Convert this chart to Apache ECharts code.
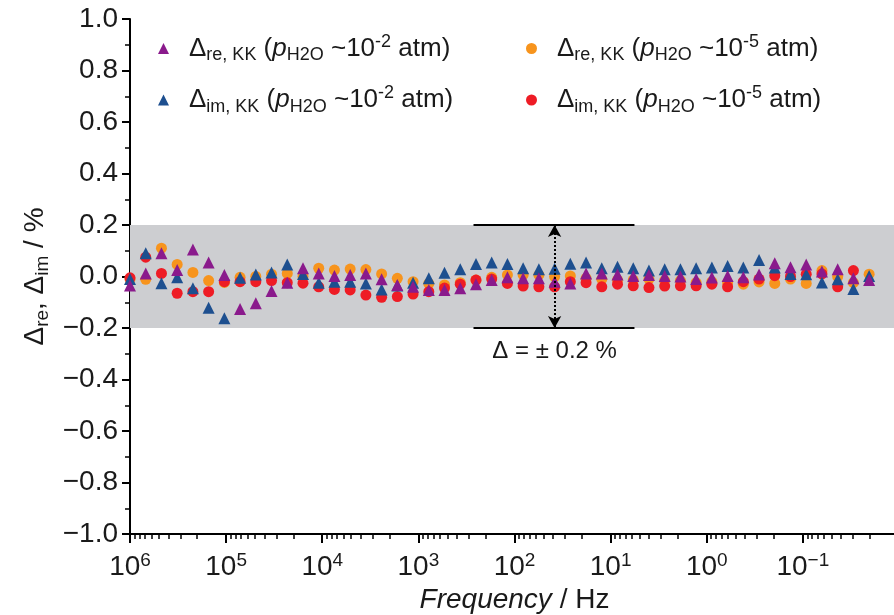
<!DOCTYPE html>
<html><head><meta charset="utf-8">
<script src="https://cdn.jsdelivr.net/npm/echarts@6/dist/echarts.min.js"></script>
<style>html,body{margin:0;padding:0;background:#fff}#c{width:894px;height:615px}</style>
</head><body><div id="c"></div>
<script>
// Frequencies (Hz) of the measured points
const frequency = [1000000, 686000, 470800, 323100, 221600, 152050, 104300, 71590, 49120, 33700,
  23120, 15860, 10880, 7468, 5124, 3516, 2412, 1655, 1136, 779.1,
  534.6, 366.7, 251.6, 172.6, 118.5, 81.28, 55.77, 38.26, 26.25, 18.01,
  12.36, 8.48, 5.818, 3.992, 2.739, 1.879, 1.289, 0.8846, 0.6069, 0.4164,
  0.2858, 0.1961, 0.1345, 0.0923, 0.06333, 0.04345, 0.02981, 0.02045];
// Δre, KK (pH2O ~1e-2 atm) — purple triangles
const reWet = [-0.035, 0.012, 0.09, 0.025, 0.105, 0.054, 0.006, -0.126, -0.104, -0.056,
  -0.024, 0.032, 0.012, 0.002, 0.006, 0.012, -0.011, -0.033, -0.04, -0.052,
  -0.052, -0.046, -0.03, -0.014, -0.003, -0.007, -0.007, -0.02, -0.027, 0.012,
  0.012, 0.008, 0.002, 0.006, 0.002, 0.0, -0.01, -0.004, 0.002, -0.003,
  0.008, 0.051, 0.036, 0.047, 0.019, 0.028, -0.007, -0.014];
// Δim, KK (pH2O ~1e-2 atm) — blue triangles
const imWet = [-0.01, 0.09, -0.026, -0.003, -0.046, -0.121, -0.162, -0.005, 0.008, 0.016,
  0.047, 0.01, -0.024, -0.02, -0.02, -0.027, -0.05, -0.035, -0.024, -0.007,
  0.015, 0.028, 0.049, 0.054, 0.049, 0.032, 0.028, 0.03, 0.05, 0.054,
  0.032, 0.038, 0.032, 0.023, 0.028, 0.028, 0.032, 0.035, 0.041, 0.035,
  0.064, 0.035, 0.01, 0.009, -0.023, -0.011, -0.049, 0.002];
// Δre, KK (pH2O ~1e-5 atm) — orange circles
const reDry = [-0.01, -0.011, 0.11, 0.047, 0.016, -0.016, -0.023, -0.003, 0.0, 0.009,
  0.012, 0.0, 0.032, 0.025, 0.029, 0.027, 0.01, -0.007, -0.02, -0.027,
  -0.033, -0.024, -0.014, -0.003, 0.006, 0.006, 0.006, 0.0, 0.002, -0.007,
  -0.011, -0.014, -0.014, -0.01, -0.016, -0.016, -0.024, -0.02, -0.024, -0.03,
  -0.021, -0.027, -0.01, -0.027, 0.023, 0.0, -0.024, 0.009];
// Δim, KK (pH2O ~1e-5 atm) — red circles
const imDry = [-0.005, 0.075, 0.012, -0.065, -0.059, -0.059, -0.02, -0.02, -0.02, -0.016,
  -0.024, -0.026, -0.04, -0.05, -0.052, -0.072, -0.081, -0.078, -0.068, -0.059,
  -0.045, -0.03, -0.014, -0.01, -0.027, -0.037, -0.04, -0.04, -0.02, -0.024,
  -0.04, -0.03, -0.036, -0.043, -0.037, -0.036, -0.036, -0.03, -0.04, -0.02,
  -0.01, 0.003, 0.0, 0.009, 0.01, -0.04, 0.023, null];

const xMajorTicks = [1e6, 1e5, 1e4, 1e3, 1e2, 1e1, 1e0, 1e-1];
const xMinorTicks = [];
for (let e = -2; e < 6; e++) for (let m = 2; m <= 9; m++) xMinorTicks.push(+(m * Math.pow(10, e)).toPrecision(3));
const xRange = [0.01, 1e6];
const yRange = [-1, 1];
const band = [-0.2, 0.2];
const bracketFreq = [267, 5.65];   // extent of the ±0.2 bracket lines
const arrowFreq = 38.26;           // position of the double arrow
const bracketLabelY = -0.29;

const F = '"Liberation Sans", Arial, Helvetica, sans-serif';
const C = '#1a1a1a';
const rich = {
  m: {fontSize: 26, fontFamily: F, color: C},
  mi: {fontSize: 26, fontFamily: F, fontStyle: 'italic', color: C},
  sb: {fontSize: 18, fontFamily: F, color: C, padding: [14, 0, 0, 0]},
  sp: {fontSize: 18, fontFamily: F, color: C, padding: [0, 0, 13, 0]},
  gap: {width: 15}
};
const axRich = {
  m: {fontSize: 28, fontFamily: F, color: C},
  mi: {fontSize: 28, fontFamily: F, fontStyle: 'italic', color: C},
  sb: {fontSize: 19, fontFamily: F, color: C, padding: [15, 0, 0, 0]},
  sp: {fontSize: 19, fontFamily: F, color: C, padding: [0, 0, 14, 0]}
};

const names = {
  reWet: 'Δre, KK (pH2O ~10-2 atm)',
  imWet: 'Δim, KK (pH2O ~10-2 atm)',
  reDry: 'Δre, KK (pH2O ~10-5 atm)',
  imDry: 'Δim, KK (pH2O ~10-5 atm)'
};
const legendRich = {};
legendRich[names.reWet] = '{gap|}{m|Δ}{sb|re, KK}{m| (}{mi|p}{sb|H2O}{m| ~10}{sp|-2}{m| atm)}';
legendRich[names.imWet] = '{gap|}{m|Δ}{sb|im, KK}{m| (}{mi|p}{sb|H2O}{m| ~10}{sp|-2}{m| atm)}';
legendRich[names.reDry] = '{gap|}{m|Δ}{sb|re, KK}{m| (}{mi|p}{sb|H2O}{m| ~10}{sp|-5}{m| atm)}';
legendRich[names.imDry] = '{gap|}{m|Δ}{sb|im, KK}{m| (}{mi|p}{sb|H2O}{m| ~10}{sp|-5}{m| atm)}';

function pts(vals) { return frequency.map((f, i) => vals[i] == null ? null : [f, vals[i]]).filter(p => p); }

const colors = {reWet: '#8a1a8c', imWet: '#1d4f8f', reDry: '#f7941d', imDry: '#ee1c25'};

function sc(key, symbol, size, extra) {
  return Object.assign({
    type: 'scatter', name: names[key], symbol: symbol, symbolSize: size,
    data: pts({reWet, imWet, reDry, imDry}[key]),
    itemStyle: {color: colors[key], opacity: 1},
    emphasis: {disabled: true}, silent: true, z: 3
  }, extra || {});
}

const chart = echarts.init(document.getElementById('c'), null, {renderer: 'canvas'});
chart.setOption({
  animation: false,
  backgroundColor: '#ffffff',
  grid: {left: 130, right: -5, top: 19, bottom: 81, containLabel: false, outerBoundsMode: 'none'},
  xAxis: [{
    type: 'log', logBase: 10, inverse: true, min: xRange[0], max: xRange[1], position: 'bottom',
    name: '{mi|Frequency}{m| / Hz}', nameLocation: 'middle', nameGap: 52,
    nameTextStyle: {rich: axRich},
    axisLine: {show: true, onZero: false, lineStyle: {color: '#000', width: 2}},
    axisTick: {show: true, length: 9, lineStyle: {color: '#000', width: 2}, customValues: xMajorTicks},
    axisLabel: {
      customValues: xMajorTicks, margin: 17,
      formatter: v => { const e = Math.round(Math.log10(v)); return (e < -1) ? '' : '{m|10}{sp|' + String(e).replace('-', '\u2212') + '}'; },
      rich: axRich
    },
    splitLine: {show: false}, minorTick: {show: false}
  }, {
    type: 'log', logBase: 10, inverse: true, min: xRange[0], max: xRange[1], position: 'bottom',
    axisLine: {show: false, onZero: false},
    axisTick: {show: true, length: 5, lineStyle: {color: '#000', width: 1.5}, customValues: xMinorTicks},
    axisLabel: {show: false}, splitLine: {show: false}
  }],
  yAxis: {
    type: 'value', min: yRange[0], max: yRange[1], interval: 0.2,
    name: '{m|Δ}{sb|re}{m|, Δ}{sb|im}{m| / %}', nameLocation: 'middle', nameGap: 74,
    nameTextStyle: {rich: axRich},
    axisLine: {show: true, onZero: false, lineStyle: {color: '#000', width: 2}},
    axisTick: {show: true, length: 8, lineStyle: {color: '#000', width: 2}},
    minorTick: {show: true, splitNumber: 2, length: 5, lineStyle: {color: '#000', width: 1.5}},
    axisLabel: {margin: 12, formatter: v => v.toFixed(1).replace('-', '\u2212'), fontSize: 28, fontFamily: F, color: C},
    splitLine: {show: false}
  },
  legend: [{
    orient: 'vertical', left: 158, top: 33, padding: 0, itemGap: 20, itemWidth: 11, itemHeight: 11,
    data: [names.reWet, names.imWet], selectedMode: false,
    formatter: n => legendRich[n], textStyle: {rich: rich}
  }, {
    orient: 'vertical', left: 526, top: 33, padding: 0, itemGap: 20, itemWidth: 11, itemHeight: 11,
    data: [names.reDry, names.imDry], selectedMode: false,
    formatter: n => legendRich[n], textStyle: {rich: rich}
  }],
  series: [
    sc('reDry', 'circle', 11, {
      markArea: {
        silent: true, itemStyle: {color: '#cdced1'},
        data: [[{yAxis: band[0]}, {yAxis: band[1]}]]
      }
    }),
    sc('imDry', 'circle', 11, {
      markLine: {
        silent: true, symbol: 'none', animation: false, label: {show: false},
        lineStyle: {color: '#000', width: 2, type: 'solid'},
        data: [
          [{coord: [bracketFreq[0], band[1]]}, {coord: [bracketFreq[1], band[1]]}],
          [{coord: [bracketFreq[0], band[0]]}, {coord: [bracketFreq[1], band[0]]}]
        ]
      }
    }),
    sc('imWet', 'triangle', 12, {
      markLine: {
        silent: true, symbol: ['arrow', 'arrow'], symbolSize: [10, 12], animation: false, label: {show: false},
        lineStyle: {color: '#000', width: 2, type: 'dotted'},
        data: [[{coord: [arrowFreq, band[1]]}, {coord: [arrowFreq, band[0]]}]]
      },
      markPoint: {
        silent: true, animation: false,
        data: [{coord: [arrowFreq, bracketLabelY], symbol: 'circle', symbolSize: 1, itemStyle: {color: 'rgba(0,0,0,0)'},
          label: {show: true, position: 'inside', formatter: 'Δ = ± 0.2 %', fontSize: 24, fontFamily: F, color: C}}]
      }
    }),
    sc('reWet', 'triangle', 12)
  ]
});
</script></body></html>
